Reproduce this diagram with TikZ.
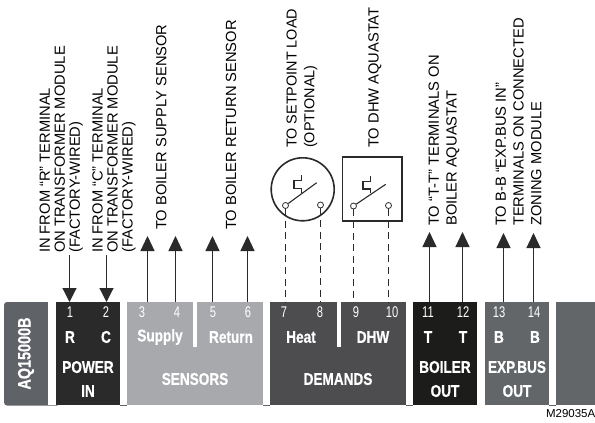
\documentclass[tikz,border=0pt]{standalone}
\usepackage{fontspec}
\setmainfont{Liberation Sans}
\newfontfamily\condf[FakeStretch=0.72]{Liberation Sans}
\newfontfamily\condb[FakeStretch=0.8,FakeBold=0.6]{Liberation Sans Bold}
\usetikzlibrary{arrows.meta}
\definecolor{cA}{HTML}{5F6367}
\definecolor{cB}{HTML}{2B2A2B}
\definecolor{cC}{HTML}{A7A9AC}
\definecolor{cD}{HTML}{4D4D4F}
\definecolor{cE}{HTML}{1C1C1A}
\definecolor{cF}{HTML}{636669}
\tikzset{
 sec/.style={inner sep=0pt,minimum height=103pt,outer sep=0pt},
 num/.style={text=white,inner sep=0pt,font=\condf\fontsize{15.5}{16}\selectfont},
 lab/.style={text=white,inner sep=0pt,align=center,font=\condb\fontsize{17}{24}\selectfont},
 vt/.style={rotate=90,anchor=west,inner sep=0pt,align=left,text=black,font=\fontsize{14.7}{15}\selectfont},
 vtw/.style={vt,font=\fontsize{14.7}{17.8}\selectfont},
 dn/.style={line width=1.2pt,draw=cB,-{Triangle[length=14pt,width=14pt]}},
 up/.style={line width=1.2pt,draw=cB,-{Triangle[length=15pt,width=14pt]}},
 dsh/.style={line width=1.2pt,draw=cB,dash pattern=on 7pt off 4.6pt},
 term/.style={circle,draw=cB,fill=white,line width=.8pt,inner sep=0pt,minimum size=6pt},
 sw/.style={line width=1.1pt,draw=cB},
}
\begin{document}
\begin{tikzpicture}[x=1pt,y=-1pt]
\useasboundingbox (0,0) rectangle (595,423);
% bar
\fill[cA,rounded corners=3pt] (4,302) rectangle (60,405.5);
\fill[white] (48,302) rectangle (56,404.5);
\node[sec,fill=cB,minimum width=64pt] (power) at (88,353.7) {};
\fill[white] (120,302) rectangle (127,404.5);
\node[sec,fill=cC,minimum width=136pt] (sensors) at (195,353.7) {};
\fill[white] (263,302) rectangle (270,404.5);
\node[sec,fill=cD,minimum width=136pt] (demands) at (338,353.7) {};
\fill[white] (406,302) rectangle (413,404.5);
\node[sec,fill=cE,minimum width=64pt] (boiler) at (445,353.7) {};
\fill[white] (477,302) rectangle (485,404.5);
\node[sec,fill=cF,minimum width=64pt] (exp) at (517,353.7) {};
\fill[white] (549,302) rectangle (556,404.5);
\node[sec,fill=cF,minimum width=39pt] (endb) at (575.5,353.7) {};
\draw[cA,line width=.6pt] (120,405.2) -- (127,405.2) (263,405.2) -- (270,405.2) (406,405.2) -- (413,405.2) (549,405.2) -- (556,405.2);
\fill[white] (193,302) rectangle (197,347);
\fill[white] (337,302) rectangle (340.5,347);
\node[rotate=90,text=white,inner sep=0pt,font=\condb\fontsize{18}{18}\selectfont] (model) at (26,353.5) {AQ15000B};
% numbers
\foreach \n/\x in {1/70,2/106,3/142,4/177,5/213,6/248,7/284,8/320,9/356,10/392,11/428,12/463,13/499,14/534}
  \node[num] (n\n) at (\x,312.5) {\n};
\foreach \n/\t/\x in {r/R/70,c/C/106,sup/Supply/160,ret/Return/231,heat/Heat/301,dhw/DHW/373,t1/T/428,t2/T/463,b1/B/499,b2/B/535}
  \node[lab] (l\n) at (\x,337) {\t};
\node[lab] (lpower) at (88,379) {POWER\\IN};
\node[lab] (lsens) at (195,379) {SENSORS};
\node[lab] (ldem) at (338,379) {DEMANDS};
\node[lab] (lboil) at (445,379) {BOILER\\OUT};
\node[lab] (lexp) at (517,379) {EXP.BUS\\OUT};
% free ends on bar top
\foreach \n/\x in {a/69.5,b/106.5,c/147.5,d/175.5,e/212.5,f/247.5,g/429.5,h/462.5,i/503.5,j/533.5}
  \coordinate (top\n) at (\x,302);
\foreach \n/\x in {c/147.5,d/175.5,e/212.5,f/247.5}
  \coordinate (tip\n) at (\x,236);
\foreach \n/\x in {g/429.5,h/462.5}
  \coordinate (tip\n) at (\x,232);
\foreach \n/\x in {i/503.5,j/533.5}
  \coordinate (tip\n) at (\x,233);
\coordinate (sa) at (69.5,255); \coordinate (sb) at (106.5,255);
\draw[dn] (sa) -- (topa);
\draw[dn] (sb) -- (topb);
\foreach \n in {c,d,e,f,g,h,i,j} \draw[up] (top\n) -- (tip\n);
% switches
\node[circle,draw=cB,line width=1.6pt,inner sep=0pt,minimum size=63pt] (load) at (302.7,189.3) {};
\node[draw=cB,line width=1.6pt,inner sep=0pt,minimum width=59.5pt,minimum height=63.5pt] (dhwbox) at (372.2,189) {};
\foreach \a/\x in {7/285.5,8/320.5,9/353.5,10/388.5}
  \coordinate (d\a) at (\x,302);
\node[term] (t7) at (285.5,205.5) {};
\node[term] (t8) at (320.5,205) {};
\node[term] (t9) at (353.5,206) {};
\node[term] (t10) at (388.5,205.5) {};
\foreach \a in {7,8,9,10}
  \draw[dsh] (t\a) -- (d\a);
\coordinate (e7) at (316.7,182.7); \coordinate (e9) at (385.7,184.3);
\draw[sw] (t7) -- (e7);
\draw[sw] (t9) -- (e9);
\draw[sw,line join=miter] (301.7,192.7) -- (301.7,188.3) -- (294,188.3) -- (294,180.7) -- (301.7,180.7) -- (301.7,175);
\draw[sw,line join=miter] (370.7,193.3) -- (370.7,189) -- (363,189) -- (363,181.3) -- (370.7,181.3) -- (370.7,175.7);
% labels
\node[vt] (tr) at (61.3,253) {IN FROM “R” TERMINAL\\ON TRANSFORMER MODULE\\(FACTORY-WIRED)};
\node[vt] (tc) at (114,253) {IN FROM “C”  TERMINAL\\ON TRANSFORMER MODULE\\(FACTORY-WIRED)};
\node[vt] (ts) at (161.3,230) {TO BOILER SUPPLY SENSOR};
\node[vt] (tt) at (231,230) {TO BOILER RETURN SENSOR};
\node[vtw,font=\fontsize{14.4}{17.8}\selectfont] (tl) at (302,148) {TO SETPOINT LOAD\\(OPTIONAL)};
\node[vt] (td) at (375,148) {TO DHW AQUASTAT};
\node[vtw] (tb) at (444,226) {TO “T-T” TERMINALS ON\\BOILER AQUASTAT};
\node[vtw] (te) at (518.5,226) {TO B-B “EXP.BUS IN”\\TERMINALS ON CONNECTED\\ZONING MODULE};
\node[anchor=east,inner sep=0pt,text=black,font=\fontsize{11.5}{12}\selectfont] (mark) at (595.5,413.5) {M29035A};
\end{tikzpicture}
\end{document}
